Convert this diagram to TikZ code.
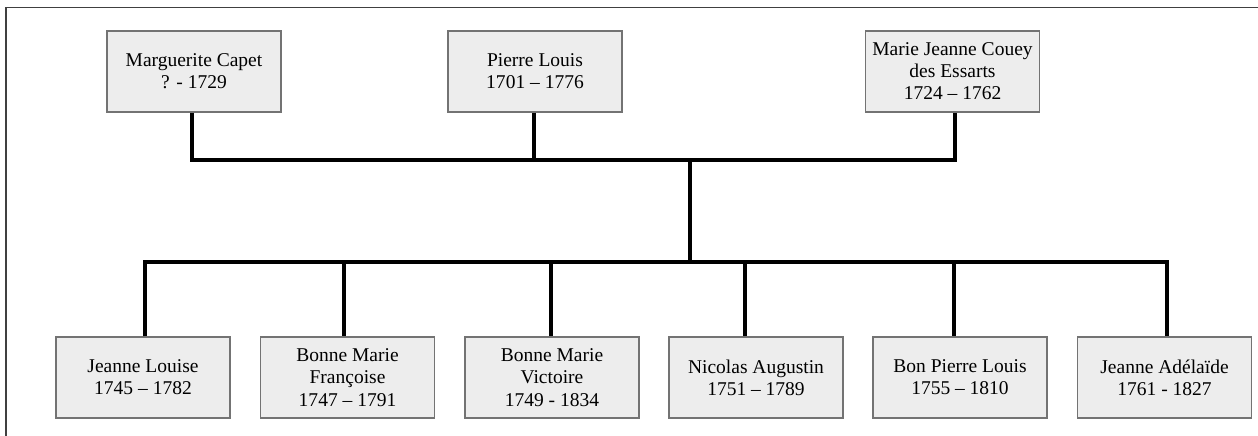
\documentclass[tikz,border=0pt]{standalone}
\usepackage{fontspec}
\setmainfont{Liberation Serif}
\usetikzlibrary{arrows}

\begin{document}
\begin{tikzpicture}[x=0.02cm,y=-0.02cm,
  person/.style={draw=black!55,fill=black!7,line width=0.6pt,minimum width=3.48cm,minimum height=1.62cm,align=center,inner sep=0pt,font=\fontsize{11.1}{12.6}\selectfont},
  bar/.style={-,line width=2.3pt,line join=miter}]
\useasboundingbox (0,0) rectangle (1258,436);
\draw[-,line width=0.9pt,black!75] (1258,7.5) -- (6,7.5) -- (6,436);
\node[person] (capet) at (194,71.5) {Marguerite Capet\\? - 1729};
\node[person] (pierre) at (535,71.5) {Pierre Louis\\1701 -- 1776};
\node[person] (couey) at (952.5,71.5) {Marie Jeanne Couey\\des Essarts\\1724 -- 1762};
\node[person] (jlouise) at (143,377.5) {Jeanne Louise\\1745 -- 1782};
\node[person] (bfrancoise) at (347.5,377.5) {Bonne Marie\\Françoise\\1747 -- 1791};
\node[person] (bvictoire) at (552,377.5) {Bonne Marie\\Victoire\\1749 - 1834};
\node[person] (nicolas) at (756,377.5) {Nicolas Augustin\\1751 -- 1789};
\node[person] (bpierre) at (960,377.5) {Bon Pierre Louis\\1755 -- 1810};
\node[person] (jadelaide) at (1164.5,377.5) {Jeanne Adélaïde\\1761 - 1827};
\coordinate (p1) at (192,160);
\coordinate (p2) at (534,160);
\coordinate (p3) at (955,160);
\coordinate (fam) at (690,160);
\coordinate (kids) at (690,262);
\coordinate (k1) at (145,262);
\coordinate (k2) at (344,262);
\coordinate (k3) at (551,262);
\coordinate (k4) at (745,262);
\coordinate (k5) at (954,262);
\coordinate (k6) at (1167,262);
\draw[bar] (p1 |- capet.south) -- (p1) -- (p3) -- (p3 |- couey.south);
\draw[bar] (p2 |- pierre.south) -- (p2);
\draw[bar] (fam) -- (kids);
\draw[bar] (k1 |- jlouise.north) -- (k1) -- (k6) -- (k6 |- jadelaide.north);
\draw[bar] (k2) -- (k2 |- bfrancoise.north);
\draw[bar] (k3) -- (k3 |- bvictoire.north);
\draw[bar] (k4) -- (k4 |- nicolas.north);
\draw[bar] (k5) -- (k5 |- bpierre.north);
\end{tikzpicture}
\end{document}
